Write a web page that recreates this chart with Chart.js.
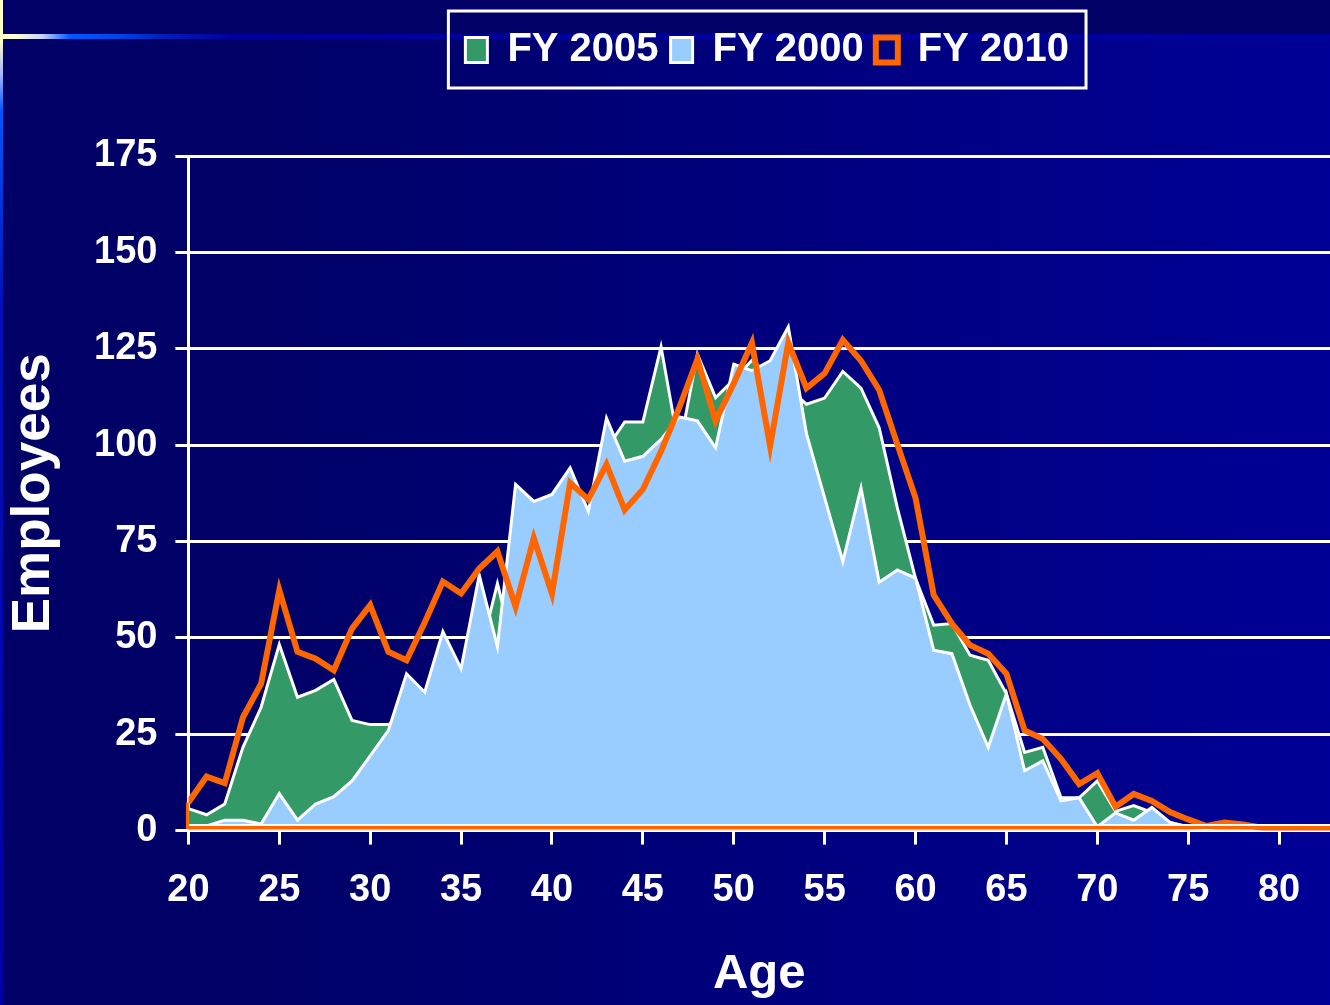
<!DOCTYPE html>
<html>
<head>
<meta charset="utf-8">
<script src="https://cdn.jsdelivr.net/npm/chart.js@4.4.1/dist/chart.umd.min.js"></script>
<style>
html,body{margin:0;padding:0;width:1330px;height:1005px;overflow:hidden;}
body{position:relative;background:linear-gradient(to right,#000066 0%,#000066 18%,#000096 100%);}
#topband{position:absolute;left:0;top:0;width:1330px;height:35px;background:#000066;}
#hline{position:absolute;left:0;top:34px;width:1330px;height:5px;background:linear-gradient(to right,#ffffc8 0px,#ffffd8 14px,#c8d4ff 42px,#0058ff 70px,#0044e8 120px,#0022b8 160px,#00009c 230px,#00009c 100%);}
#vline{position:absolute;left:0;top:0;width:3px;height:1005px;background:linear-gradient(to bottom,#ffffc8 0px,#ffffc8 40px,#a0b4ff 75px,#0058ff 110px,#0010b8 300px,#0000aa 100%);}
#wrap{position:absolute;left:0;top:0;width:1330px;height:1005px;}
</style>
</head>
<body>
<div id="topband"></div>
<div id="hline"></div>
<div id="vline"></div>
<div id="wrap"><canvas id="c" width="1330" height="1005"></canvas></div>
<script>
// ---- data ----
const ages = [20,21,22,23,24,25,26,27,28,29,30,31,32,33,34,35,36,37,38,39,40,41,42,43,44,45,46,47,48,49,50,51,52,53,54,55,56,57,58,59,60,61,62,63,64,65,66,67,68,69,70,71,72,73,74,75,76,77,78,79,80,81,82,83];
const fy2005 = [5.7,4.1,6.9,21.6,32,48.3,34.6,36.4,39.2,28.6,
                27.5,27.5,30,30,40,38,45,64.1,45,60,
                65,75,80,99,106,106,125.5,99,123.6,112.3,
                117,122,118,115,110.6,112.2,119.1,114.8,104.5,83.7,
                65.4,53.3,53.7,45.5,44.2,35.5,20.3,21.6,8.6,8.5,
                12.9,5,6.5,4.7,2.1,1,0.5,1,1.5,0.5,
                0,0,0,0];
const fy2000 = [1.2,1.2,2.7,2.7,1.7,9.6,2.7,6.9,8.8,12.9,
                19.4,26,40.7,35.9,51.6,42,66.3,47.7,89.8,85.4,
                87.2,94.1,82.8,107,95.8,97.1,101.5,107.3,106.3,99.3,
                121,119.3,121.9,130.7,103,86.3,69.8,88.9,64.4,67.6,
                65.5,46.8,45.9,32.5,21.6,35.5,15.5,18.1,7.7,8.5,
                1,4.6,2.7,6,2.1,0.8,0.5,1,1.5,0.5,
                0,0,1,0];
const fy2010 = [7.3,14,12.3,29.4,38.1,62.4,46.4,44.6,41.6,52.4,
                58.5,46.4,44.2,54,64.6,61.5,68,72.4,58.1,75.9,
                61.5,90.2,85.9,95,83.2,88.5,98.4,109.7,122.3,106.3,
                116,126.5,99.7,126.6,114.8,118.6,127.3,121.9,114.3,100.2,
                86.3,61.1,53.7,48.1,45.9,40.7,26,23.8,18.6,12.1,
                14.9,6.2,9.5,7.7,4.8,2.9,1.2,2.1,1.6,0.8,
                0,0,0,0];
const seriesLabels = ['FY 2005','FY 2000','FY 2010'];
const xTickValues = [20,25,30,35,40,45,50,55,60,65,70,75,80];
const yTickValues = [0,25,50,75,100,125,150,175];
const xTitle = 'Age';
const yTitle = 'Employees';

// ---- helpers ----
const pts = arr => ages.map((a,i) => ({x:a, y:arr[i]}));
const FONT = "'Liberation Sans', Arial, Helvetica, sans-serif";
Chart.defaults.font.family = FONT;
Chart.defaults.font.weight = 'bold';

const legendSpace = {
  id:'legendSpace',
  beforeInit(chart){
    const orig = chart.legend.fit;
    chart.legend.fit = function(){ orig.call(this); this.height = 138; };
  },
  afterUpdate(chart){
    const lg = chart.legend; if(!lg) return;
    const shift = 8;
    lg.left += shift; lg.right += shift;
    (lg.legendHitBoxes||[]).forEach(h=>{ h.left += shift; });
  }
};
const legendFrame = {
  id:'legendFrame',
  afterDraw(chart){
    const hb = chart.legend && chart.legend.legendHitBoxes;
    if(!hb || !hb.length) return;
    const l = Math.min(...hb.map(h=>h.left)) - 17;
    const r = Math.max(...hb.map(h=>h.left+h.width)) + 17;
    const t = Math.min(...hb.map(h=>h.top)) - 19;
    const b = Math.max(...hb.map(h=>h.top+h.height)) + 18;
    const ctx = chart.ctx;
    ctx.save(); ctx.strokeStyle='#ffffff'; ctx.lineWidth=3;
    ctx.strokeRect(l,t,r-l,b-t); ctx.restore();
  }
};
const areaBase = {
  id:'areaBase',
  afterDatasetsDraw(chart){
    const meta = chart.getDatasetMeta(2);
    const p = meta.data; if(!p || !p.length) return;
    const y0 = chart.scales.y.getPixelForValue(0);
    const ca = chart.chartArea;
    const ctx = chart.ctx;
    ctx.save();
    ctx.beginPath(); ctx.rect(ca.left-4, ca.top, ca.width+8, ca.height+4); ctx.clip();
    ctx.strokeStyle='#ffffff'; ctx.lineWidth=2;
    ctx.beginPath(); ctx.moveTo(p[0].x, y0-5.5); ctx.lineTo(p[p.length-1].x, y0-5.5); ctx.stroke();
    ctx.strokeStyle='#FF6600'; ctx.lineWidth=3; ctx.lineJoin='miter';
    ctx.beginPath(); ctx.moveTo(p[0].x-1, p[0].y); ctx.lineTo(p[0].x-1, y0-3); ctx.lineTo(p[p.length-1].x, y0-3); ctx.stroke();
    ctx.restore();
  }
};

new Chart(document.getElementById('c'), {
  type:'line',
  data:{
    datasets:[
      {label:seriesLabels[0], data:pts(fy2005), order:3, fill:'origin', backgroundColor:'#339966', borderColor:'#ffffff', borderWidth:3, pointRadius:0, tension:0},
      {label:seriesLabels[1], data:pts(fy2000), order:2, fill:'origin', backgroundColor:'#99CCFF', borderColor:'#ffffff', borderWidth:3, pointRadius:0, tension:0},
      {label:seriesLabels[2], data:pts(fy2010), order:1, fill:false, backgroundColor:'rgba(0,0,0,0)', borderColor:'#FF6600', borderWidth:6, pointRadius:0, tension:0}
    ]
  },
  options:{
    responsive:false, animation:false, devicePixelRatio:1,
    layout:{padding:{top:18,left:0,right:0,bottom:0}},
    plugins:{
      legend:{position:'top', fullSize:false,
        labels:{color:'#ffffff', font:{family:FONT,size:40,weight:'bold'}, boxWidth:22, boxHeight:25, padding:12,
                sort:(a,b)=>a.datasetIndex-b.datasetIndex}},
      tooltip:{enabled:false}
    },
    scales:{
      x:{type:'linear', min:20, max:82.8,
        afterBuildTicks:s=>{ s.ticks = xTickValues.map(v=>({value:v})); },
        ticks:{color:'#ffffff', font:{family:FONT,size:38,weight:'bold'}, padding:23, maxRotation:0, autoSkip:false, includeBounds:false},
        grid:{drawOnChartArea:false, drawTicks:true, tickLength:14, tickColor:'#ffffff', tickWidth:3, color:'#ffffff', lineWidth:3},
        border:{display:true, color:'#ffffff', width:3},
        title:{display:true, text:xTitle, color:'#ffffff', font:{family:FONT,size:49,weight:'bold'}, padding:{top:9,bottom:1}}
      },
      y:{min:0, max:175,
        afterBuildTicks:s=>{ s.ticks = yTickValues.map(v=>({value:v})); },
        ticks:{color:'#ffffff', font:{family:FONT,size:38,weight:'bold'}, padding:18},
        grid:{color:'#ffffff', lineWidth:3, drawTicks:true, tickLength:13, tickColor:'#ffffff', tickWidth:3},
        border:{display:true, color:'#ffffff', width:3},
        title:{display:true, text:yTitle, color:'#ffffff', font:{family:FONT,size:53,weight:'bold'}, padding:{top:3,bottom:9.4}}
      }
    }
  },
  plugins:[legendSpace, legendFrame, areaBase]
});
</script>
</body>
</html>
